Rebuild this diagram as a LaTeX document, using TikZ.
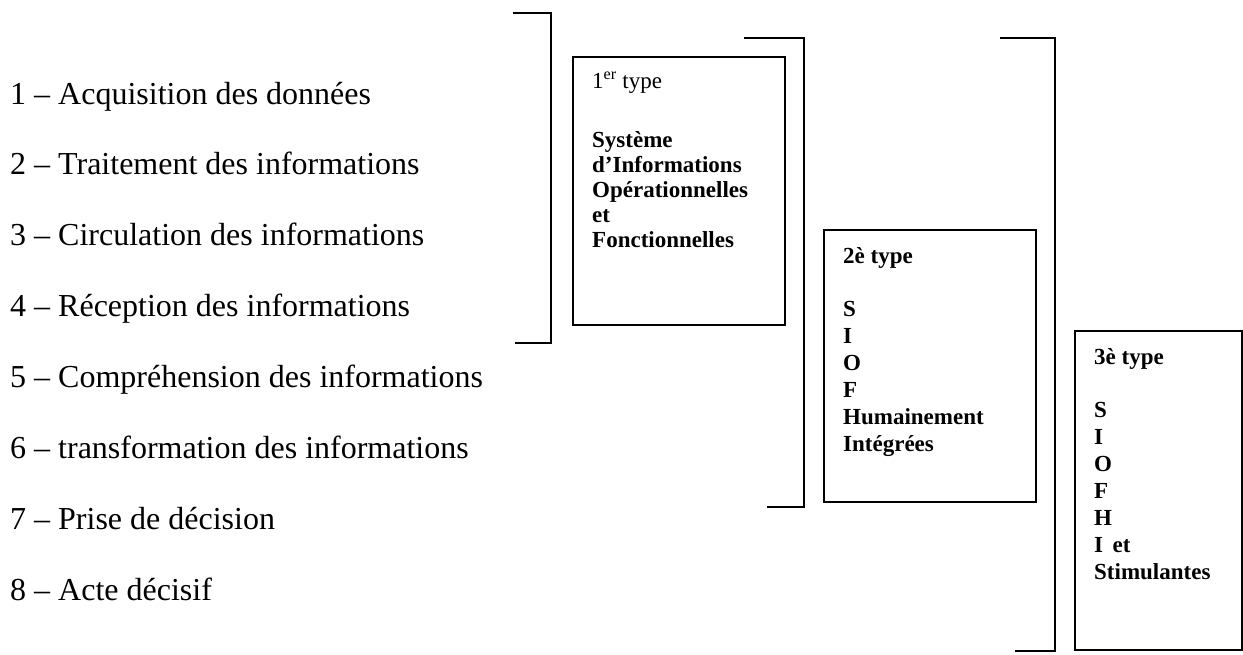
\documentclass[tikz,border=0pt]{standalone}
\usepackage{fontspec}
\setmainfont{Liberation Serif}
\usetikzlibrary{positioning}

\begin{document}
\begin{tikzpicture}[
    x=1pt, y=-1pt,
    node distance=41.5pt,
    item/.style={font=\fontsize{32}{36}\selectfont, inner sep=0pt, anchor=base west,
                 text height=22pt, text depth=7pt},
    typebox/.style={draw, line width=1.8pt, anchor=north west, inner sep=0pt},
    typetext/.style={font=\fontsize{23}{25}\selectfont, align=left, inner sep=0pt,
                     anchor=north west},
    brk/.style={line width=1.8pt},
]
\useasboundingbox (0,0) rectangle (1243,654);

% ---- Steps of the decision chain -------------------------------------------
\node[item] (i1) at (10,104) {1 \textendash{} Acquisition des données};
\node[item, below=of i1.south west, anchor=north west] (i2) {2 \textendash{} Traitement des informations};
\node[item, below=of i2.south west, anchor=north west] (i3) {3 \textendash{} Circulation des informations};
\node[item, below=of i3.south west, anchor=north west] (i4) {4 \textendash{} Réception des informations};
\node[item, below=of i4.south west, anchor=north west] (i5) {5 \textendash{} Compréhension des informations};
\node[item, below=of i5.south west, anchor=north west] (i6) {6 \textendash{} transformation des informations};
\node[item, below=of i6.south west, anchor=north west] (i7) {7 \textendash{} Prise de décision};
\node[item, below=of i7.south west, anchor=north west] (i8) {8 \textendash{} Acte décisif};

% ---- Three types of information system -------------------------------------
\node[typebox, minimum width=212pt, minimum height=268pt] (t1) at (572,56) {};
\node[typetext] (t1txt) at ([xshift=20pt, yshift=-16pt]t1.north west)
    {1\textsuperscript{er} type\\[34pt]
     \textbf{Système}\\ \textbf{d’Informations}\\ \textbf{Opérationnelles}\\
     \textbf{et}\\ \textbf{Fonctionnelles}};

\node[typebox, minimum width=212pt, minimum height=272pt] (t2) at (823,229) {};
\node[typetext, font=\fontsize{23}{27}\selectfont\bfseries] (t2txt)
    at ([xshift=20pt, yshift=-18pt]t2.north west)
    {2è type\\[26pt] S\\ I\\ O\\ F\\ Humainement\\ Intégrées};

\node[typebox, minimum width=167pt, minimum height=319pt] (t3) at (1074,330) {};
\node[typetext, font=\fontsize{23}{27}\selectfont\bfseries] (t3txt)
    at ([xshift=20pt, yshift=-18pt]t3.north west)
    {3è type\\[26pt] S\\ I\\ O\\ F\\ H\\ I\, et\\ Stimulantes};

% ---- Brackets --------------------------------------------------------------
\draw[brk] (513,13) -- (551,13) -- (551,343) -- (515,343);
\draw[brk] (744,38) -- (804,38) -- (804,507) -- (767,507);
\draw[brk] (1000,38) -- (1055,38) -- (1055,651) -- (1015,651);

\end{tikzpicture}
\end{document}
